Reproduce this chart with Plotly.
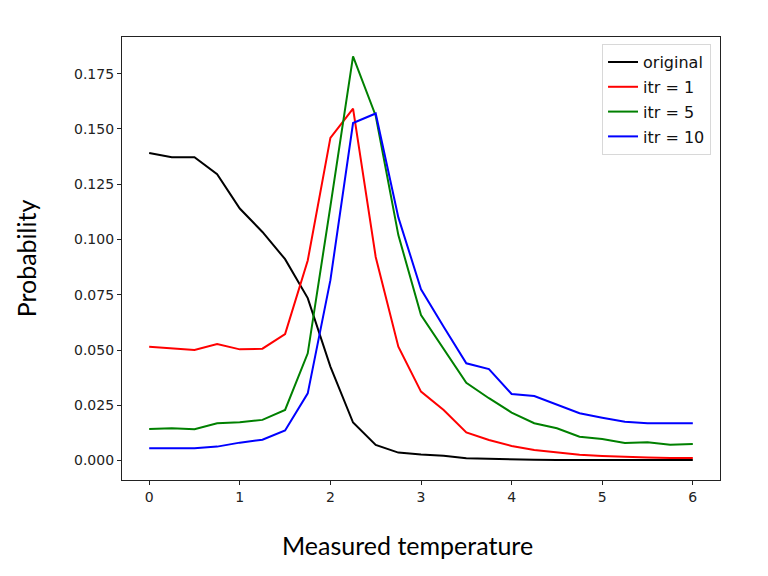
import plotly.graph_objects as go

# measured temperature grid (step 0.25)
temps = [0, 0.25, 0.5, 0.75, 1, 1.25, 1.5, 1.75, 2, 2.25, 2.5, 2.75, 3,
         3.25, 3.5, 3.75, 4, 4.25, 4.5, 4.75, 5, 5.25, 5.5, 5.75, 6]

original = [0.1391, 0.1372, 0.1372, 0.1295, 0.1140, 0.1034, 0.0911, 0.0735,
            0.0425, 0.0172, 0.0071, 0.0036, 0.0027, 0.0022, 0.0010, 0.0007,
            0.0005, 0.0004, 0.0003, 0.0003, 0.0002, 0.0002, 0.0002, 0.0002,
            0.0002]
itr1 = [0.0515, 0.0508, 0.0500, 0.0527, 0.0503, 0.0506, 0.0572, 0.0905,
        0.1460, 0.1592, 0.0921, 0.0515, 0.0312, 0.0229, 0.0127, 0.0093,
        0.0066, 0.0048, 0.0036, 0.0026, 0.0021, 0.0016, 0.0014, 0.0011,
        0.0012]
itr5 = [0.0143, 0.0146, 0.0142, 0.0169, 0.0173, 0.0184, 0.0229, 0.0485,
        0.1150, 0.1828, 0.1560, 0.1020, 0.0658, 0.0506, 0.0352, 0.0282,
        0.0217, 0.0169, 0.0146, 0.0108, 0.0097, 0.0079, 0.0083, 0.0071,
        0.0075]
itr10 = [0.0056, 0.0056, 0.0056, 0.0063, 0.0081, 0.0094, 0.0136, 0.0304,
         0.0816, 0.1527, 0.1570, 0.1100, 0.0775, 0.0605, 0.0440, 0.0414,
         0.0301, 0.0292, 0.0252, 0.0214, 0.0194, 0.0176, 0.0169, 0.0169,
         0.0169]

series = [
    ("original", original, "black"),
    ("itr = 1", itr1, "red"),
    ("itr = 5", itr5, "green"),
    ("itr = 10", itr10, "blue"),
]

x_ticks = [0, 1, 2, 3, 4, 5, 6]
y_ticks = [0, 0.025, 0.05, 0.075, 0.1, 0.125, 0.15, 0.175]

fig = go.Figure()
for name, vals, color in series:
    # separate legend groups so tracegroupgap spaces the rows out
    fig.add_trace(go.Scatter(x=temps, y=vals, mode="lines", name=name,
                             legendgroup=name,
                             line=dict(color=color, width=2)))

tick_font = dict(family="DejaVu Sans", size=14, color="#222")
title_font = dict(family="Lato", size=25, color="black")

fig.update_layout(
    width=768, height=576,
    paper_bgcolor="white", plot_bgcolor="white",
    margin=dict(l=114, r=56, t=29, b=104),
    showlegend=True,
    legend=dict(x=0.985, y=0.984, xanchor="right", yanchor="top",
                bgcolor="white", bordercolor="#d8d8d8", borderwidth=1,
                font=dict(family="DejaVu Sans", size=16, color="#111"),
                tracegroupgap=1),
)
# x title sits a bit left of the axis centre in the original
fig.add_annotation(text="Measured temperature", font=title_font,
                   xref="paper", yref="paper", x=0.478, y=-0.108,
                   xanchor="center", yanchor="top", showarrow=False)
fig.update_xaxes(
    range=[-0.3, 6.3], tickvals=x_ticks, ticks="outside", ticklen=4,
    tickcolor="#222", tickfont=tick_font, showgrid=False, zeroline=False,
    showline=True, linecolor="#222", linewidth=1.2, mirror=True,
)
fig.update_yaxes(
    range=[-0.0088, 0.1916], tickvals=y_ticks, tickformat=".3f",
    ticks="outside", ticklen=4, tickcolor="#222", tickfont=tick_font,
    showgrid=False, zeroline=False,
    showline=True, linecolor="#222", linewidth=1.2, mirror=True,
    title=dict(text="Probability", font=title_font, standoff=30),
)

fig.write_html("out.html")
